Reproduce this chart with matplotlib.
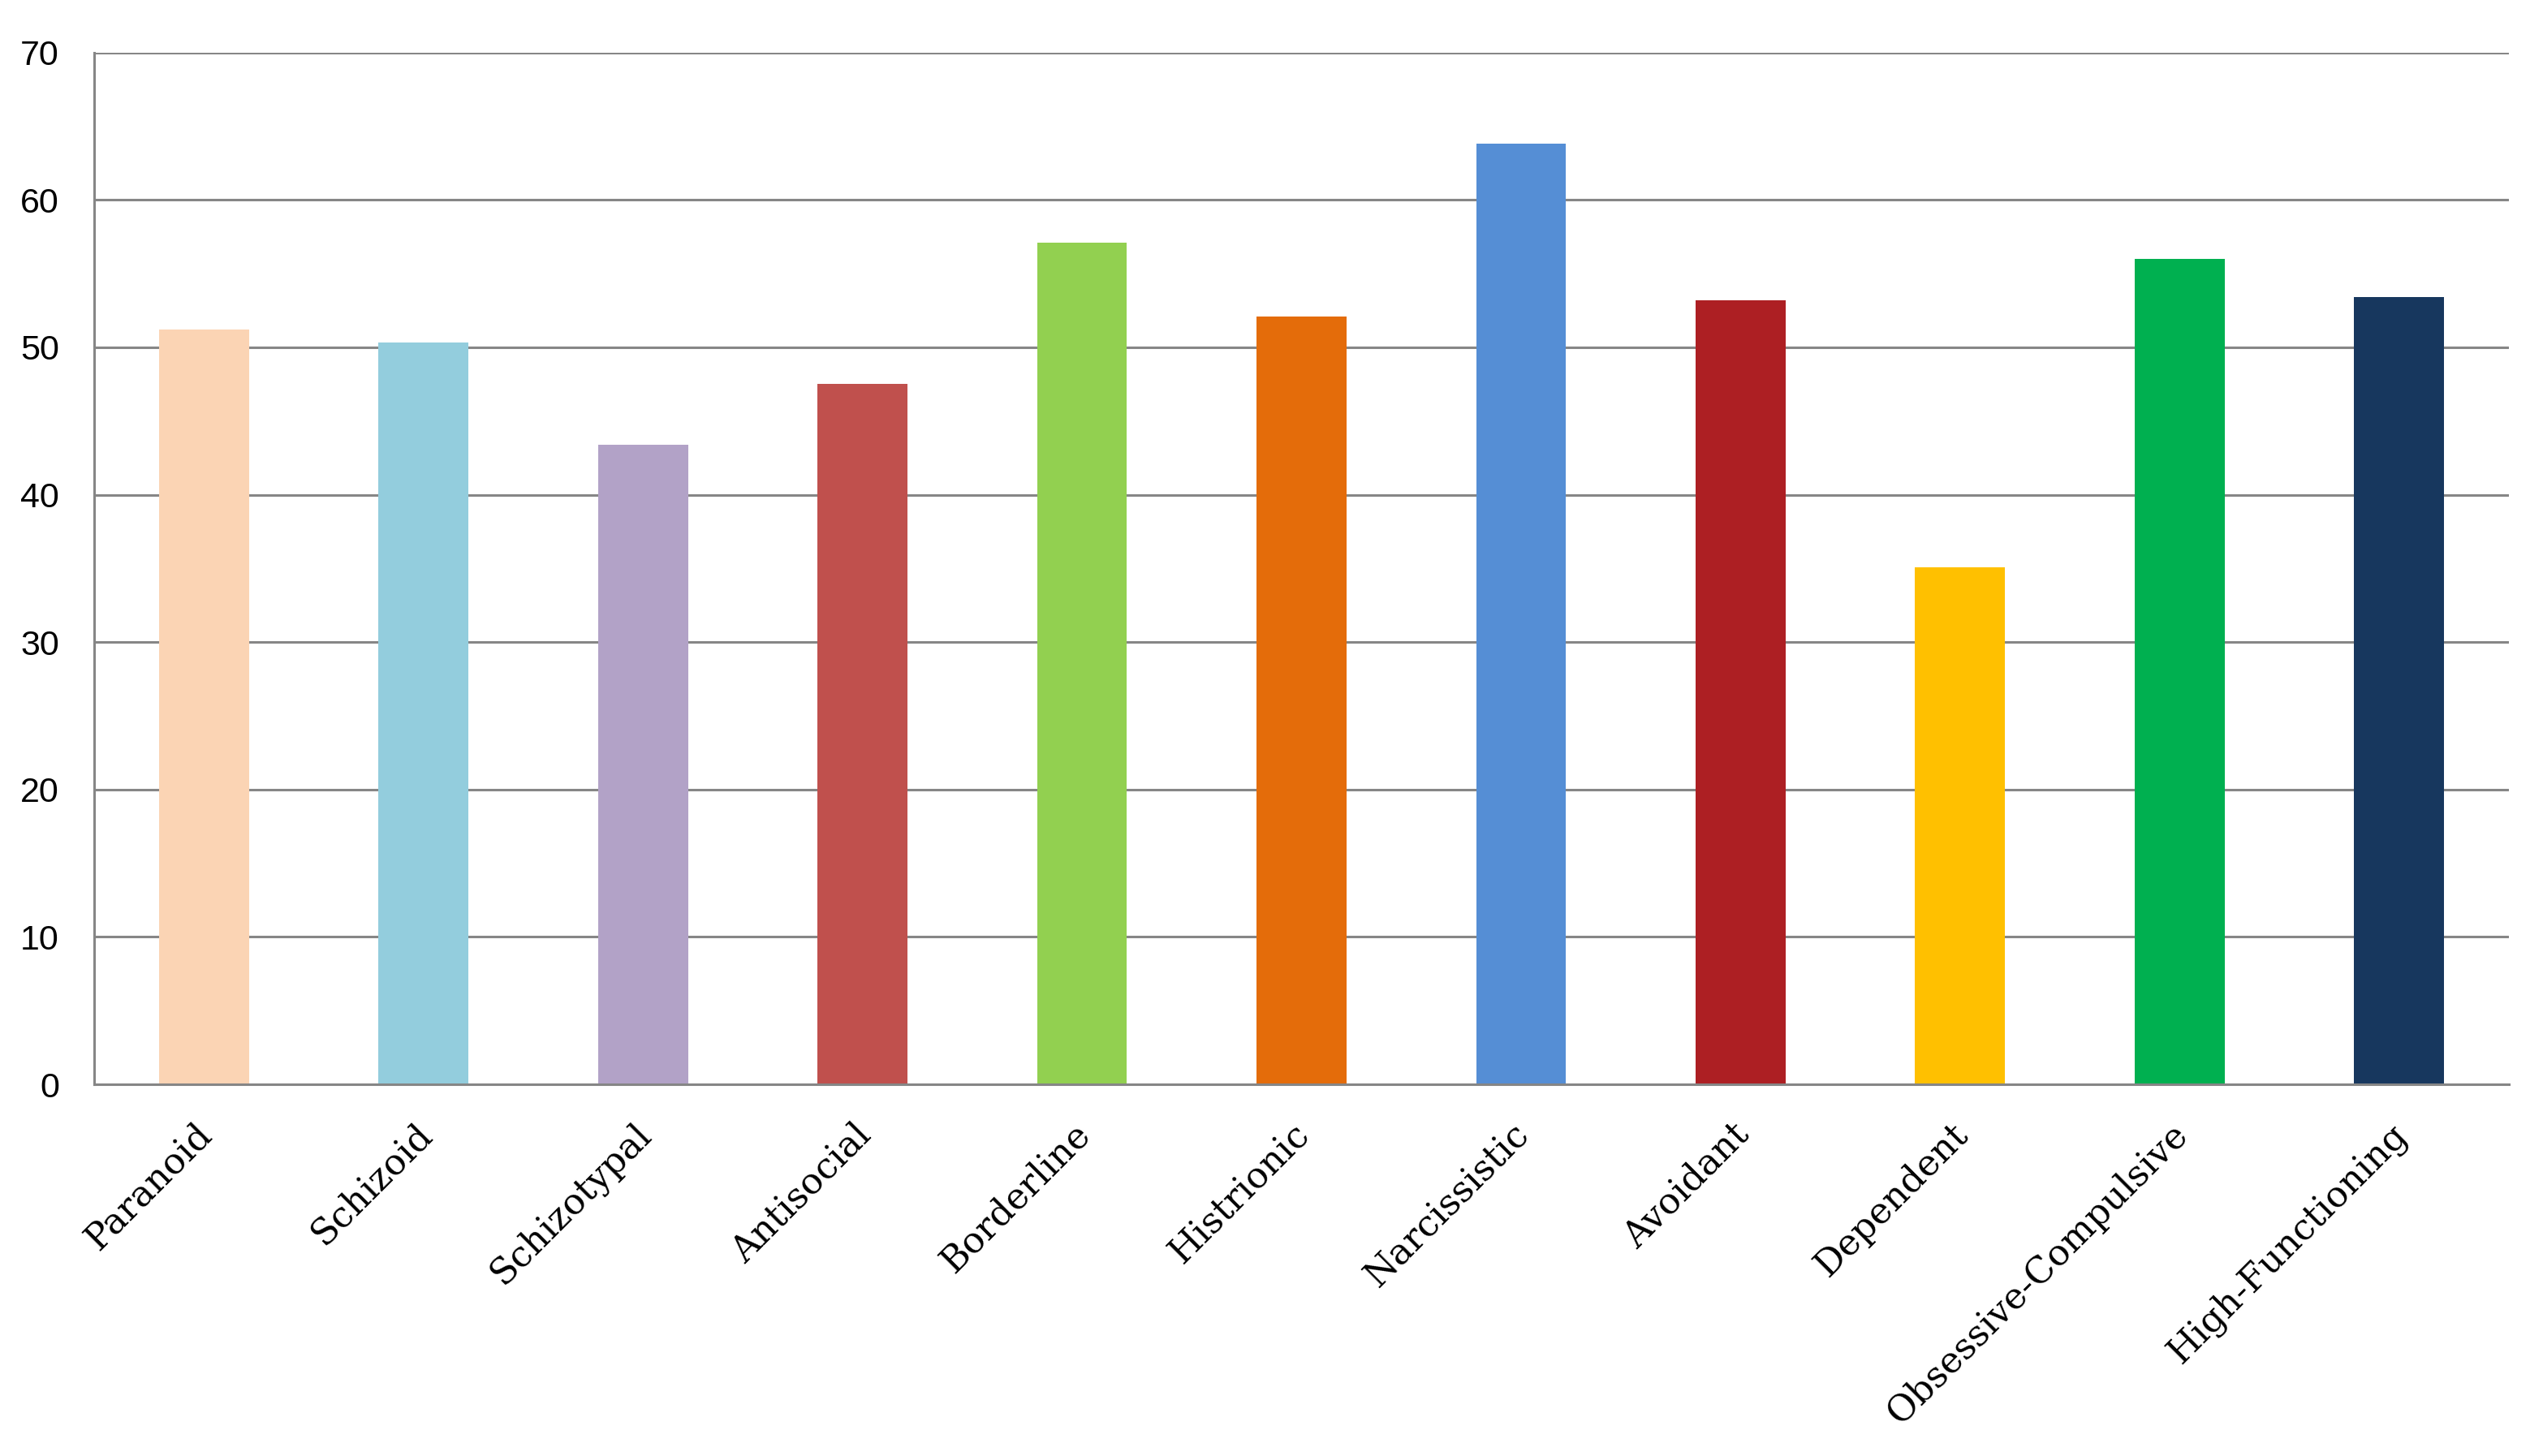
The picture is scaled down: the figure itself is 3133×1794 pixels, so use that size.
import matplotlib
matplotlib.use("Agg")
import matplotlib.pyplot as plt
import matplotlib.transforms as mtransforms

categories = ["Paranoid", "Schizoid", "Schizotypal", "Antisocial", "Borderline",
              "Histrionic", "Narcissistic", "Avoidant", "Dependent",
              "Obsessive-Compulsive", "High-Functioning"]
values = [51.2, 50.3, 43.4, 47.5, 57.1, 52.1, 63.8, 53.2, 35.1, 56.0, 53.4]
colors = ["#FBD4B4", "#93CDDD", "#B2A2C7", "#C0504D", "#92D050", "#E46C0A",
          "#558ED5", "#AD1F23", "#FFC000", "#00B050", "#17375E"]
yticks = [0, 10, 20, 30, 40, 50, 60, 70]

W, H = 3133, 1794
fig = plt.figure(figsize=(W / 100, H / 100), dpi=100)
ax = fig.add_axes([116 / W, (H - 1336) / H, (3091 - 116) / W, (1336 - 64.7) / H])

x = list(range(len(categories)))
ax.bar(x, values, width=0.41, color=colors, zorder=2)

ax.set_xlim(-0.5, len(categories) - 0.5)
ax.set_ylim(0, 70)
ax.set_yticks(yticks)
ax.set_yticklabels([str(t) for t in yticks], fontsize=31, family="Liberation Sans")
ax.yaxis.grid(True, color="#868686", linewidth=2.2, zorder=1)
ax.set_axisbelow(True)

ax.set_xticks(x)
ax.set_xticklabels(categories, rotation=45, ha="right", rotation_mode="anchor",
                   fontsize=32, family="DejaVu Serif")
ax.tick_params(axis="x", length=0, pad=33)
ax.tick_params(axis="y", length=0, pad=31)
offset = mtransforms.ScaledTranslation(-12 / 100, 6 / 100, fig.dpi_scale_trans)
for lab in ax.get_xticklabels():
    lab.set_transform(lab.get_transform() + offset)

for s in ["top", "right"]:
    ax.spines[s].set_visible(False)
ax.spines["left"].set_color("#868686")
ax.spines["left"].set_linewidth(2.2)
ax.spines["bottom"].set_color("#868686")
ax.spines["bottom"].set_linewidth(2.2)
ax.spines["bottom"].set_zorder(3)

fig.savefig("out.png", dpi=100, facecolor="white")
